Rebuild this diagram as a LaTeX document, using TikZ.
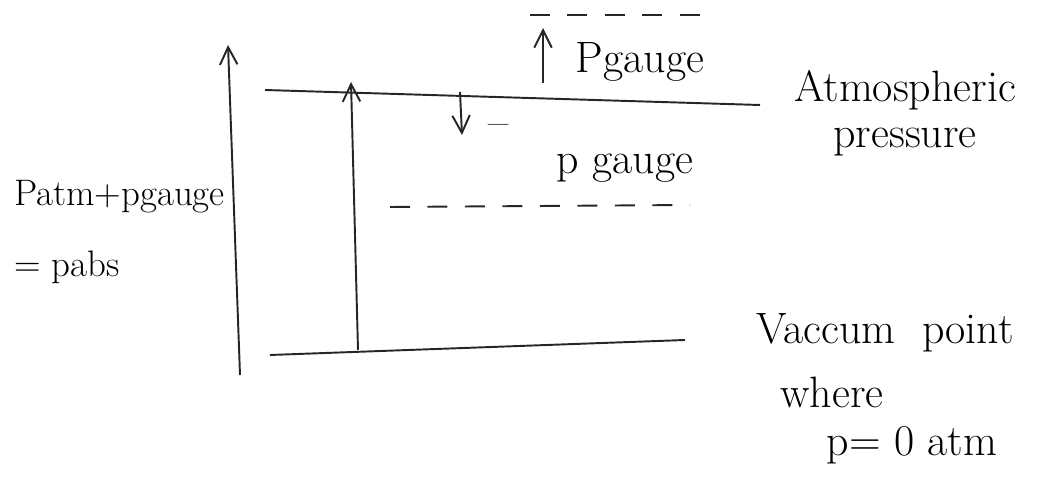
\documentclass[tikz,border=0pt]{standalone}
\usepackage{tikz}
\usetikzlibrary{arrows.meta,positioning}

\begin{document}
\begin{tikzpicture}[
x=0.02cm,y=-0.02cm,
lvl/.style={line width=1.1pt,color=black!85},
dashlvl/.style={lvl,dash pattern=on 4mm off 3.5mm},
arr/.style={-{Straight Barb[length=3.5mm,width=3.5mm]},line width=1.1pt,color=black!85},
lbl/.style={font=\fontsize{25}{30}\selectfont,inner sep=1pt,align=center},
smalllbl/.style={font=\fontsize{21}{30}\selectfont,inner sep=1pt,align=left}
]
\useasboundingbox (0,0) rectangle (1059,479);
% pressure levels
\coordinate (atmL) at (265,90);
\coordinate (atmR) at (760,105);
\coordinate (vacL) at (270,355);
\coordinate (vacR) at (685,340);
\coordinate (upL) at (530,15);
\coordinate (upR) at (715,15);
\coordinate (loL) at (390,207);
\coordinate (loR) at (690,205);
\draw[lvl] (atmL)--(atmR);
\draw[lvl] (vacL)--(vacR);
\draw[dashlvl] (upL)--(upR);
\draw[dashlvl] (loL)--(loR);
% arrows
\coordinate (absB) at (240,375);
\coordinate (absT) at (228,45);
\coordinate (atmB) at (358,350);
\coordinate (atmT) at (351,82);
\coordinate (negT) at (460,92);
\coordinate (negB) at (462,135);
\coordinate (posB) at (543,83);
\coordinate (posT) at (543,28);
\draw[arr] (absB)--(absT);
\draw[arr] (atmB)--(atmT);
\draw[arr] (negT)--(negB);
\draw[arr] (posB)--(posT);
% labels
\node[lbl] (pg) at (640,62) {Pgauge};
\node[lbl] (atm) at (905,113) {Atmospheric\\[-4pt]pressure};
\node[lbl] (minus) at (499,130) {--};
\node[lbl] (ng) at (625,168) {p gauge};
\node[smalllbl,anchor=west] (abs) at (12,232) {Patm+pgauge\\[10pt]= pabs};
\node[lbl] (vac) at (885,333) {Vaccum\ \ point};
\node[lbl] (wh) at (832,392) {where};
\node[lbl] (zero) at (912,445) {p= 0 atm};
\end{tikzpicture}
\end{document}
